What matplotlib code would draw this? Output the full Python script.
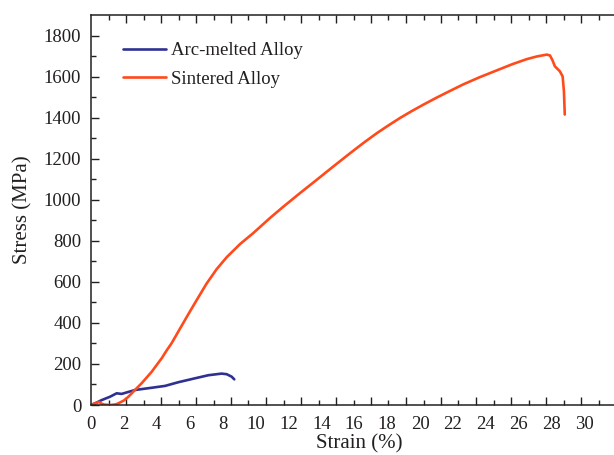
import numpy as np
import matplotlib
matplotlib.use("Agg")
import matplotlib.pyplot as plt
from matplotlib.ticker import FixedLocator, NullFormatter

# ---------------- data ----------------
sint_strain = [0.0, 0.3, 0.5, 0.6, 0.8, 1.2, 1.5, 1.66, 2.0, 2.27, 2.67, 3.08, 3.69,
               4.30, 4.60, 4.90, 5.41, 5.9, 6.43, 7.03, 7.64, 8.25, 9.06, 9.87,
               10.88, 11.69, 12.7, 13.72, 14.73, 15.74, 16.55, 17.37, 18.08, 18.78,
               19.5, 20.2, 21.0, 21.82, 22.63, 23.6, 24.66, 25.6, 26.49, 27.1,
               27.7, 27.9, 28.05, 28.2, 28.5, 28.67, 28.75, 28.8]
sint_stress = [0, 10, 15, 8, 2, 0, 3, 8, 22, 40, 73, 106, 162,
               228, 266, 301, 372, 440, 512, 592, 662, 720, 784, 838,
               911, 966, 1032, 1097, 1162, 1226, 1276, 1324, 1362, 1398,
               1432, 1463, 1497, 1530, 1562, 1596, 1630, 1660, 1685, 1698,
               1707, 1703, 1680, 1650, 1626, 1601, 1528, 1415]

arc_strain = [0.0, 0.3, 0.65, 1.15, 1.56, 1.86, 2.67, 3.69, 4.50, 5.31, 6.32,
              7.13, 7.94, 8.25, 8.55, 8.71]
arc_stress = [0, 10, 24, 40, 57, 54, 73, 84, 93, 111, 130,
              145, 153, 150, 138, 125]

series_labels = ["Arc-melted Alloy", "Sintered Alloy"]
xtick_labels = [str(v) for v in range(0, 31, 2)]
ytick_values = list(range(0, 1801, 200))

# ---------------- styling ----------------
TXT = "#231f20"
BLUE = "#2e3192"
RED = "#ff4a1c"
plt.rcParams["font.family"] = ["Liberation Serif", "DejaVu Serif"]

W, H = 614, 455
fig = plt.figure(figsize=(W / 100, H / 100), dpi=100)
x0, y0 = 91, 50            # axes origin in pixels (from bottom-left)
px_per_x = 16.45           # pixels per strain unit
xmax = 32.6
ax = fig.add_axes([x0 / W, y0 / H, xmax * px_per_x / W, 390 / H])

ax.plot(arc_strain, arc_stress, color=BLUE, lw=1.9, label=series_labels[0],
        solid_capstyle="round", solid_joinstyle="round")
ax.plot(sint_strain, sint_stress, color=RED, lw=1.9, label=series_labels[1],
        solid_capstyle="round", solid_joinstyle="round")

ax.set_xlim(0, xmax)
ax.set_ylim(0, 1900)

for s in ax.spines.values():
    s.set_linewidth(1.1)
    s.set_color(TXT)

# y ticks
ax.set_yticks(ytick_values)
ax.yaxis.set_minor_locator(FixedLocator(np.arange(100, 1900, 200)))
ax.tick_params(axis="y", which="both", direction="in", left=True, right=False,
               colors=TXT, labelsize=13.5, pad=7, width=1.0)
ax.tick_params(axis="y", which="major", length=6)
ax.tick_params(axis="y", which="minor", length=3.5)

# x tick labels (labels only, no marks)
label_pos = [float(v) for v in range(0, 31, 2)]
ax.set_xticks(label_pos)
ax.set_xticklabels(xtick_labels)
ax.tick_params(axis="x", which="major", length=0, pad=8, labelsize=13.5,
               colors=TXT, top=False)

# x tick marks (as in the reference, drawn on their own spacing)
mark_step = 35.0 / px_per_x
major_marks = [mark_step * k for k in range(1, 16)]
minor_marks = [mark_step * (k + 0.5) for k in range(0, 16)]
for side in ("bottom", "top"):
    sec = ax.secondary_xaxis(side)
    sec.xaxis.set_major_locator(FixedLocator(major_marks))
    sec.xaxis.set_minor_locator(FixedLocator(minor_marks))
    sec.xaxis.set_major_formatter(NullFormatter())
    sec.xaxis.set_minor_formatter(NullFormatter())
    sec.tick_params(which="both", direction="in", colors=TXT, width=1.0)
    sec.tick_params(which="major", length=6)
    sec.tick_params(which="minor", length=3.5)
    sec.spines[side].set_visible(False)

ax.set_xlabel("Strain (%)", fontsize=15, color=TXT, labelpad=1)
ax.set_ylabel("Stress (MPa)", fontsize=15, color=TXT, labelpad=8)

leg = ax.legend(loc="upper left", bbox_to_anchor=(0.045, 0.95), frameon=False,
                fontsize=13.5, handlelength=2.3, handletextpad=0.3,
                labelspacing=0.6, borderaxespad=0)
for t in leg.get_texts():
    t.set_color(TXT)

fig.savefig("out.png", dpi=100)
